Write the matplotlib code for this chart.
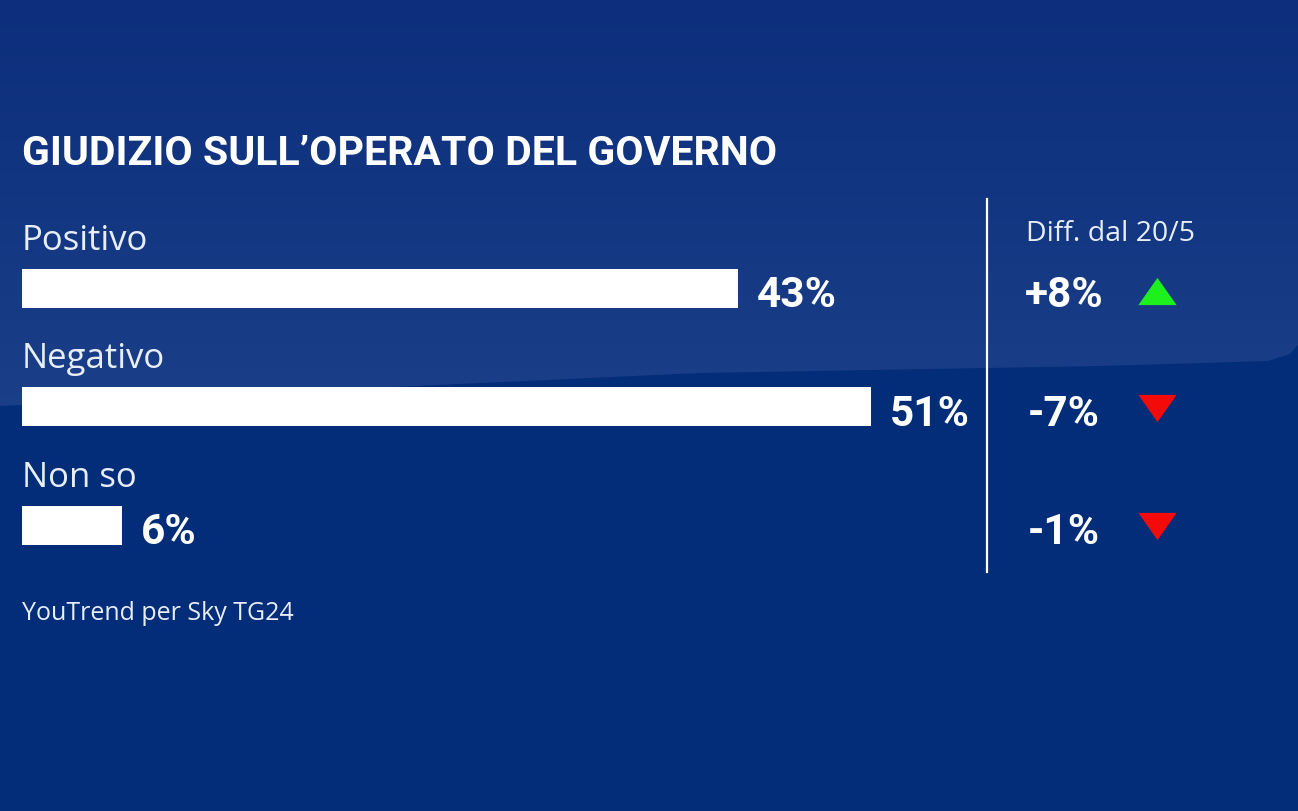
import numpy as np
import matplotlib.pyplot as plt
from matplotlib import transforms
from matplotlib.patches import Polygon

# data
categories = ['Positivo', 'Negativo', 'Non so']
values = [43, 51, 6]
diffs = [8, -7, -1]
title = "GIUDIZIO SULL\u2019OPERATO DEL GOVERNO"
diff_header = 'Diff. dal 20/5'
source = 'YouTrend per Sky TG24'

W, H = 1298, 812
cond = ['Roboto', 'DejaVu Sans']
reg = ['Open Sans', 'DejaVu Sans']

fig = plt.figure(figsize=(W / 100, H / 100), dpi=100)
fig.patch.set_facecolor('#032d78')

# background layer in pixel coords
bg = fig.add_axes([0, 0, 1, 1])
bg.set_xlim(0, W)
bg.set_ylim(H, 0)
bg.axis('off')
top_c = np.array([12, 46, 124]) / 255
mid_c = np.array([27, 63, 136]) / 255
grad = np.linspace(0, 1, 256)[:, None, None]
img = top_c + (mid_c - top_c) * grad
bg.imshow(img, extent=[0, W, 420, 0], aspect='auto', zorder=0)
lower = [(0, 407), (350, 390), (700, 374), (1100, 367), (1268, 362),
         (1290, 355), (1298, 346), (1298, H), (0, H)]
bg.add_patch(Polygon(lower, closed=True, facecolor='#032d78', edgecolor='none', zorder=1))

# divider
bg.plot([987, 987], [200, 573], color='white', lw=1.6, zorder=3)

# title and source
bg.text(22, 165, title, color='white', fontsize=29.5, fontweight='bold',
        family=cond, ha='left', va='baseline', zorder=4)
bg.text(22, 620, source, color='#e8eef8', fontsize=18, family=reg,
        ha='left', va='baseline', zorder=4)
bg.text(1026, 241, diff_header, color='#e8eef8', fontsize=20.5, family=reg,
        ha='left', va='baseline', zorder=4)

# bar axes: 0% at x=22px, 16.65 px per point
px_per = 16.65
xmax = 60
ax = fig.add_axes([22 / W, (H - 585.25) / H, xmax * px_per / W, 355 / H])
ax.set_xlim(0, xmax)
ax.set_ylim(2.5, -0.5)
ax.axis('off')
ax.patch.set_alpha(0)

ypos = np.arange(len(categories))
ax.barh(ypos, values, height=0.33, color='white', zorder=3)

def shift(dx, dy):
    return transforms.ScaledTranslation(dx / 100, -dy / 100, fig.dpi_scale_trans)

for i, (cat, v) in enumerate(zip(categories, values)):
    ax.text(0, i, cat, transform=ax.transData + shift(0, -39.5), color='#e8eef8',
            fontsize=25, family=reg, ha='left', va='baseline', clip_on=False)
    ax.text(v, i, '%d%%' % v, transform=ax.transData + shift(19, 18), color='white',
            fontsize=30.5, fontweight='bold', family=cond, ha='left', va='baseline',
            clip_on=False)

# diff column: x in pixels, y in category units
blend = transforms.blended_transform_factory(bg.transData, ax.transData)
for i, d in enumerate(diffs):
    lab = ('+%d%%' % d) if d > 0 else ('-%d%%' % abs(d))
    ax.text(1064, i, lab, transform=blend + shift(0, 18), color='white',
            fontsize=30.5, fontweight='bold', family=cond, ha='center', va='baseline',
            clip_on=False)
    if d > 0:
        mk = [(-1, -0.71), (1, -0.71), (0, 0.71)]
        col = '#1ef01e'
        dy = 3
    else:
        mk = [(-1, 0.71), (1, 0.71), (0, -0.71)]
        col = '#f50a0a'
        dy = 1
    ax.scatter([1157], [i], marker=mk, s=760, color=col, linewidths=0,
               transform=blend + shift(0, dy), clip_on=False, zorder=5)

fig.savefig('out.png', dpi=100, facecolor=fig.get_facecolor())
